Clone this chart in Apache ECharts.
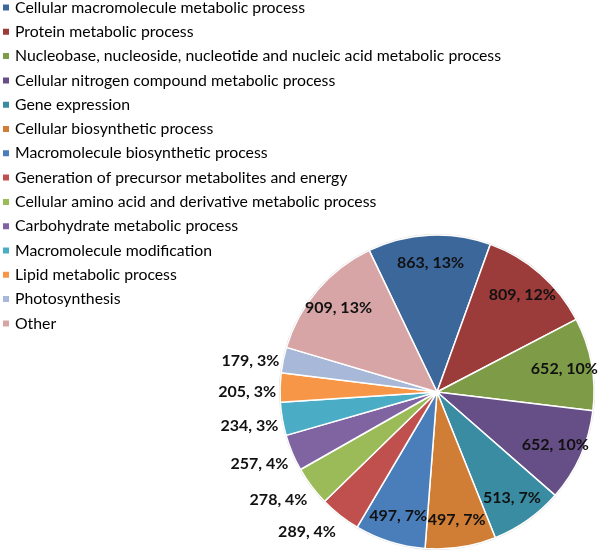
<!DOCTYPE html>
<html>
<head>
<meta charset="utf-8">
<script src="https://cdn.jsdelivr.net/npm/echarts@6/dist/echarts.min.js"></script>
<style>
html,body{margin:0;padding:0;background:#fff;}
#c{width:600px;height:557px;}
</style>
</head>
<body>
<div id="c"></div>
<script>
const categories = [
  "Cellular macromolecule metabolic process",
  "Protein metabolic process",
  "Nucleobase, nucleoside, nucleotide and nucleic acid metabolic process",
  "Cellular nitrogen compound metabolic process",
  "Gene expression",
  "Cellular biosynthetic process",
  "Macromolecule biosynthetic process",
  "Generation of precursor metabolites and energy",
  "Cellular amino acid and derivative metabolic process",
  "Carbohydrate metabolic process",
  "Macromolecule modification",
  "Lipid metabolic process",
  "Photosynthesis",
  "Other"
];
const counts = [863, 809, 652, 652, 513, 497, 497, 289, 278, 257, 234, 205, 179, 909];
const percents = [13, 12, 10, 10, 7, 7, 7, 4, 4, 4, 3, 3, 3, 13];
const colors = ["#3C679B", "#9C3C3A", "#7E9B48", "#664E86", "#3A8CA3", "#D07D36",
                "#4A7EBB", "#C0504D", "#9BBB59", "#8064A2", "#4BACC6", "#F79646",
                "#A7B8D8", "#D8A5A6"];

const CENTER = [437, 392];
const R = 157;
const START = 115.6;
const isOutside = v => v < 300;

const chart = echarts.init(document.getElementById('c'), null, {renderer: 'canvas'});
const fmt = p => p.value + ', ' + percents[p.dataIndex] + '%';
const labelFont = {fontFamily: 'Lato', fontWeight: 'bold', fontSize: 16, color: '#111'};

const mainData = categories.map((n, i) => ({
  name: n,
  value: counts[i],
  itemStyle: {color: colors[i]},
  label: {show: isOutside(counts[i])}
}));
const overlayData = categories.map((n, i) => ({
  name: n,
  value: counts[i],
  label: {show: !isOutside(counts[i])}
}));

chart.setOption({
  animation: false,
  backgroundColor: '#fff',
  legend: {
    orient: 'vertical',
    left: 1,
    top: -1,
    padding: 0,
    icon: 'rect',
    itemWidth: 8,
    itemHeight: 8,
    itemGap: 7.3,
    selectedMode: false,
    data: categories,
    textStyle: {fontFamily: 'Lato', fontSize: 15.8, color: '#000', lineHeight: 17}
  },
  series: [
    {
      type: 'pie',
      center: CENTER,
      radius: [0, R + 1],
      startAngle: START,
      silent: true,
      data: [{value: 1, name: '__ring'}],
      itemStyle: {color: '#d4d4d4'},
      label: {show: false},
      labelLine: {show: false},
      legendHoverLink: false
    },
    {
      type: 'pie',
      center: CENTER,
      radius: [0, R],
      startAngle: START,
      clockwise: true,
      avoidLabelOverlap: false,
      silent: true,
      data: mainData,
      itemStyle: {borderColor: '#fff', borderWidth: 1.5},
      label: Object.assign({position: 'outside', formatter: fmt, distanceToLabelLine: 4}, labelFont),
      labelLine: {show: false, length: 0, length2: 0},
      labelLayout: function (p) {
        const r = p.labelRect;
        const mid = r.y + r.height / 2;
        return {dy: (mid - CENTER[1]) * 0.1 + 4.5};
      }
    },
    {
      type: 'pie',
      center: CENTER,
      radius: [96, R],
      startAngle: START,
      clockwise: true,
      avoidLabelOverlap: false,
      silent: true,
      data: overlayData,
      itemStyle: {color: 'rgba(0,0,0,0)', borderWidth: 0},
      label: Object.assign({position: 'inside', formatter: fmt}, labelFont),
      labelLine: {show: false}
    }
  ]
});
</script>
</body>
</html>
